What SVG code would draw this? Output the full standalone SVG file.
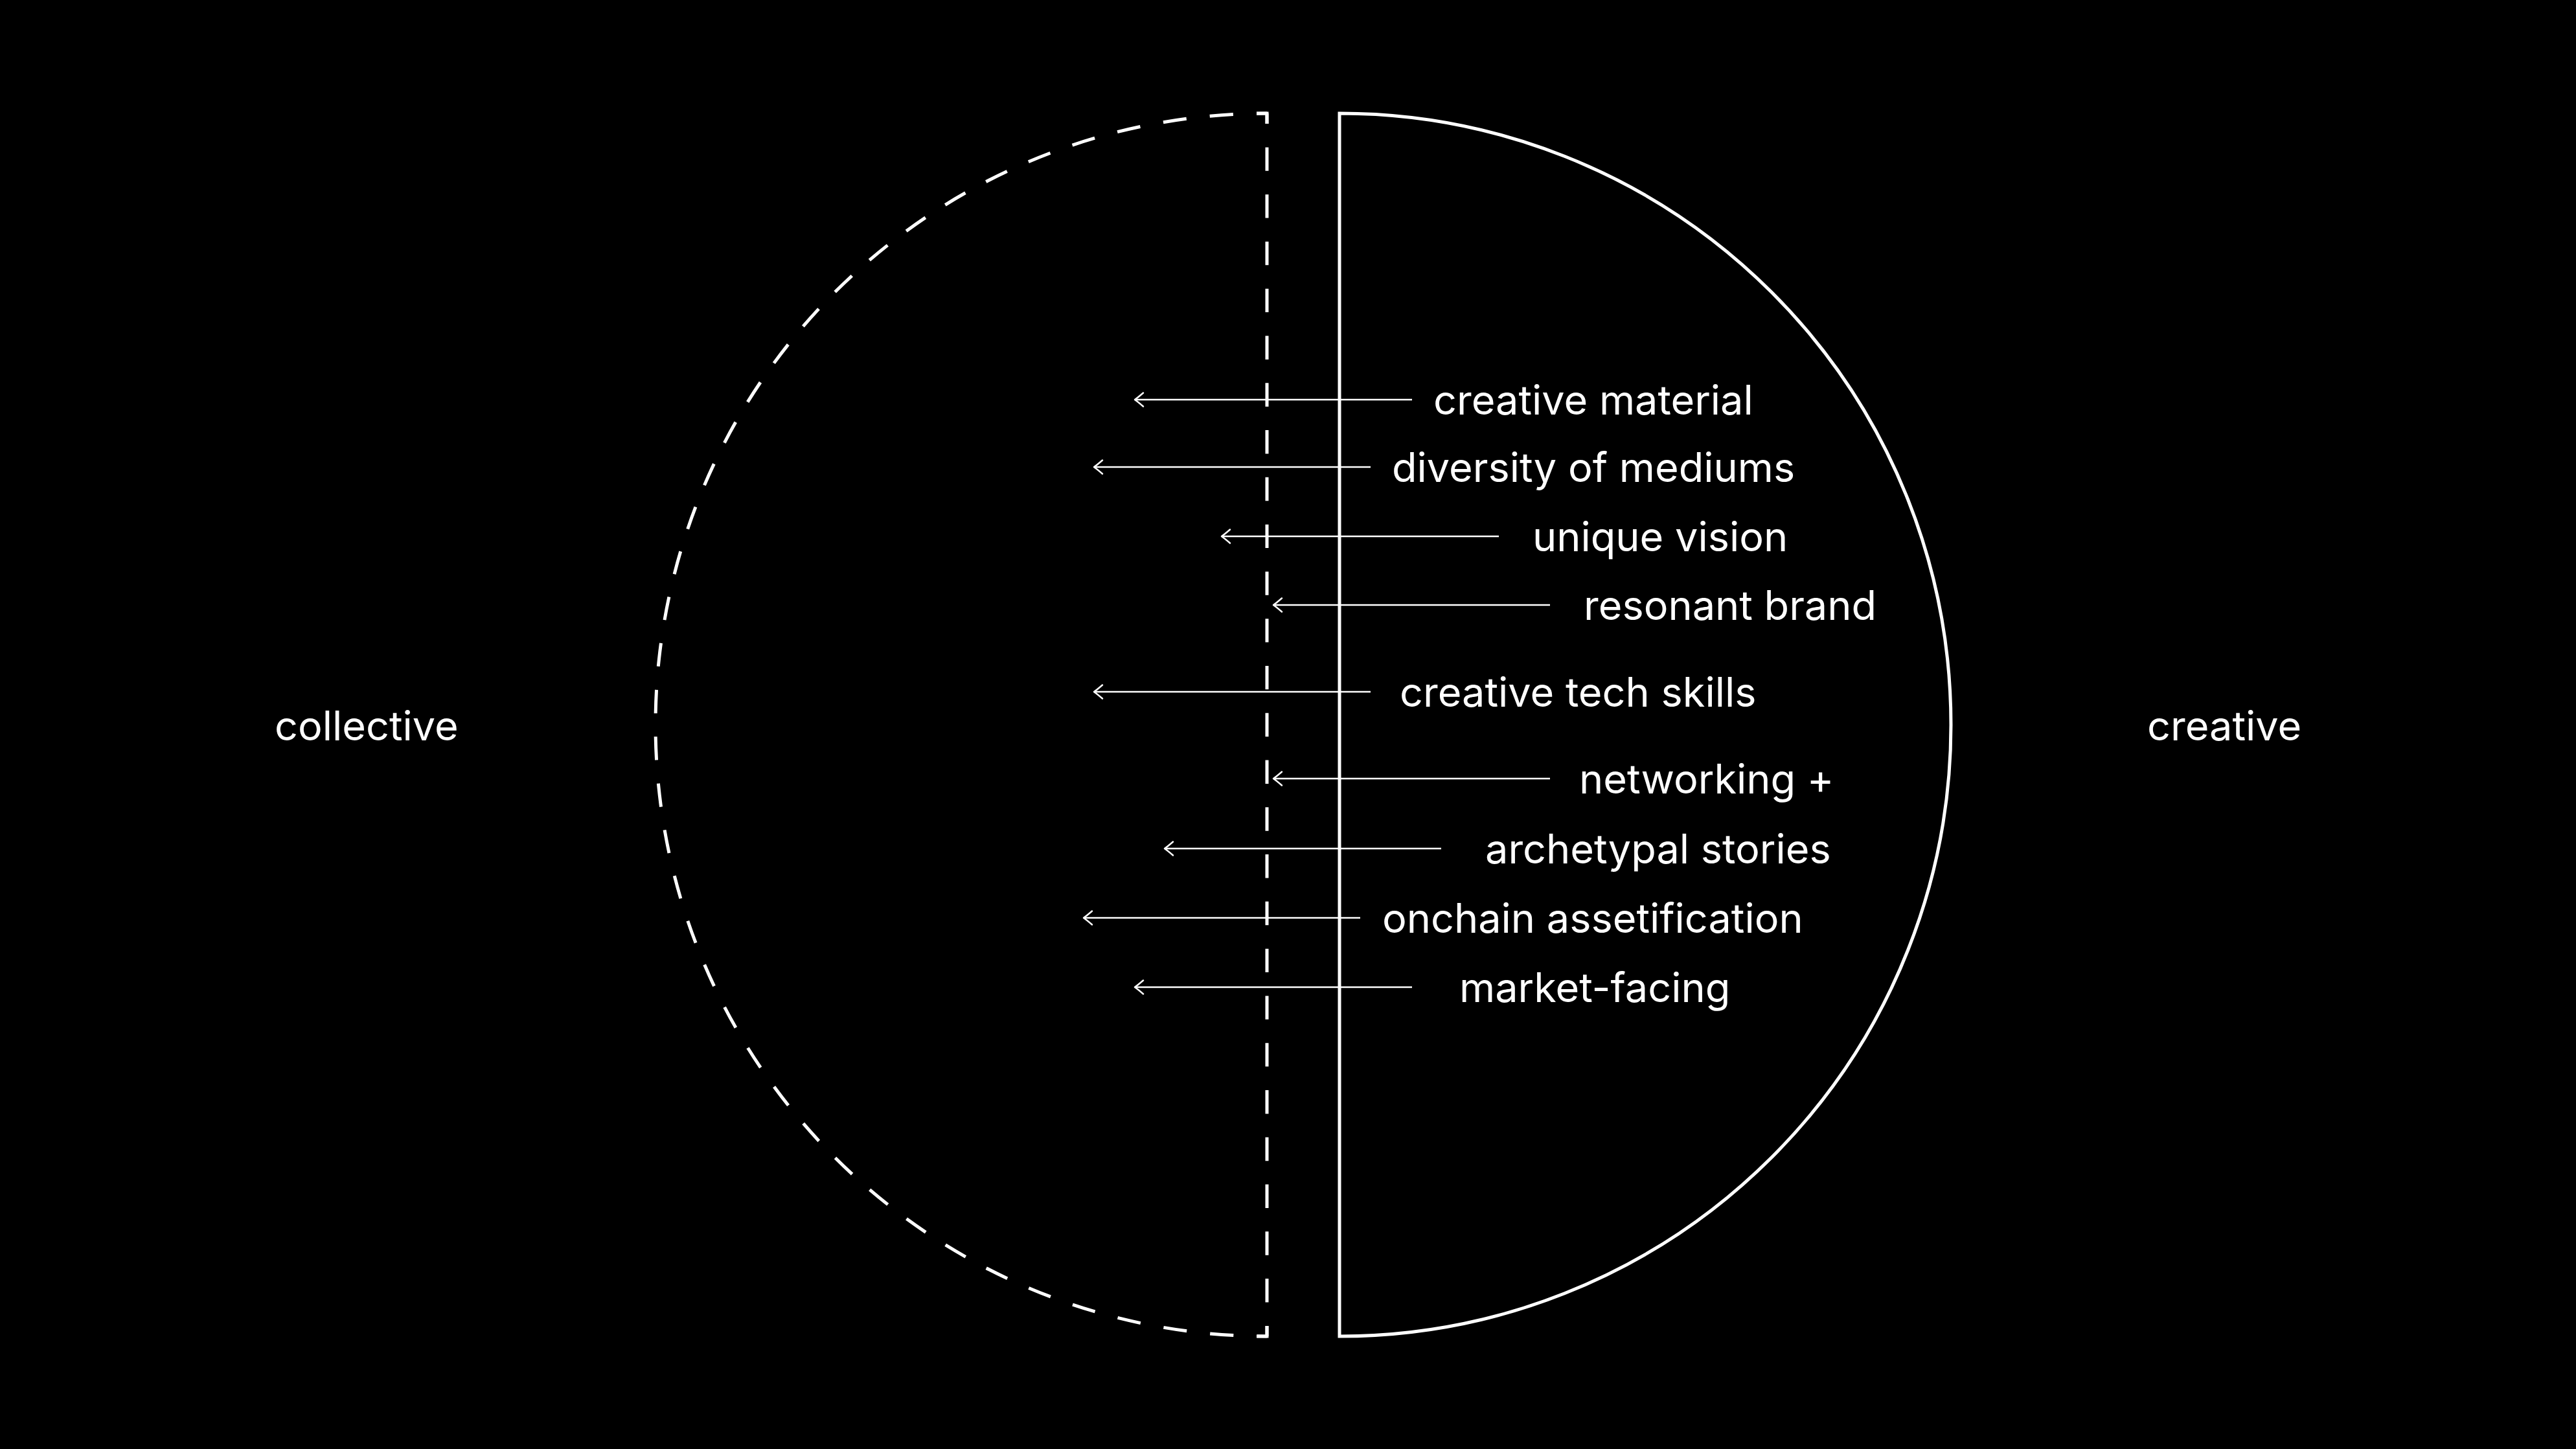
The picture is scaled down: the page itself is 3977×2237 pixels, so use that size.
<svg xmlns="http://www.w3.org/2000/svg" width="3977" height="2237" viewBox="0 0 3977 2237">
<style>
.bg{fill:#000}
.half{fill:none;stroke:#fff;stroke-width:5}
.dashArc{stroke-dasharray:36.22 36.22;stroke-dashoffset:20.22}
.dashLine{stroke-dasharray:36.39 36.39;stroke-dashoffset:20.39}
.corner{fill:none;stroke:#fff;stroke-width:5;stroke-linejoin:miter}
.side{font-family:Inter,"Noto Sans","Liberation Sans",sans-serif;font-size:63px;fill:#fff}
.lbl{font-family:Inter,"Noto Sans","Liberation Sans",sans-serif;font-size:63px;fill:#fff}
.arr{fill:none;stroke:#fff;stroke-width:2.5;marker-end:url(#head)}
</style>
<defs>
<marker id="head" markerUnits="userSpaceOnUse" markerWidth="30" markerHeight="30" refX="0" refY="0" viewBox="-15 -15 30 30" orient="auto" overflow="visible">
<path d="M-13,-10.5 Q-5,-3.5 0,0 Q-5,3.5 -13,10.5" fill="none" stroke="#fff" stroke-width="2.5" stroke-linecap="round" stroke-linejoin="round"/>
</marker>
</defs>
<rect class="bg" x="0" y="0" width="3977" height="2237"/>
<g id="collective">
<path class="half dashArc" d="M1956,175 A944,944 0 0 0 1956,2063"/>
<path class="half dashLine" d="M1956,175 L1956,2063"/>
<path class="corner" d="M1940,175 L1956,175 L1956,191"/>
<path class="corner" d="M1940,2063 L1956,2063 L1956,2047"/>
<text class="side" x="424" y="1143">collective</text>
</g>
<g id="creative">
<path class="half" d="M2068,175 A944,944 0 0 1 2068,2063 Z"/>
<text class="side" x="3315" y="1143">creative</text>
</g>
<g id="connectors">
<path class="arr" d="M2180,617 L1752,617"/>
<path class="arr" d="M2116,721 L1689,721"/>
<path class="arr" d="M2314,828 L1886,828"/>
<path class="arr" d="M2393,934 L1966,934"/>
<path class="arr" d="M2116,1068 L1689,1068"/>
<path class="arr" d="M2393,1202 L1966,1202"/>
<path class="arr" d="M2225,1310 L1798,1310"/>
<path class="arr" d="M2100,1417 L1673,1417"/>
<path class="arr" d="M2180,1524 L1752,1524"/>
</g>
<g id="labels">
<g id="n-creative-material"><text class="lbl" x="2213" y="640">creative material</text></g>
<g id="n-diversity-of-mediums"><text class="lbl" x="2149" y="744">diversity of mediums</text></g>
<g id="n-unique-vision"><text class="lbl" x="2366" y="851">unique vision</text></g>
<g id="n-resonant-brand"><text class="lbl" x="2445" y="957">resonant brand</text></g>
<g id="n-creative-tech-skills"><text class="lbl" x="2161" y="1091">creative tech skills</text></g>
<g id="n-networking"><text class="lbl" x="2438" y="1225">networking +</text></g>
<g id="n-archetypal-stories"><text class="lbl" x="2293" y="1333">archetypal stories</text></g>
<g id="n-onchain-assetification"><text class="lbl" x="2134" y="1440">onchain assetification</text></g>
<g id="n-market-facing"><text class="lbl" x="2253" y="1547">market-facing</text></g>
</g>
</svg>
